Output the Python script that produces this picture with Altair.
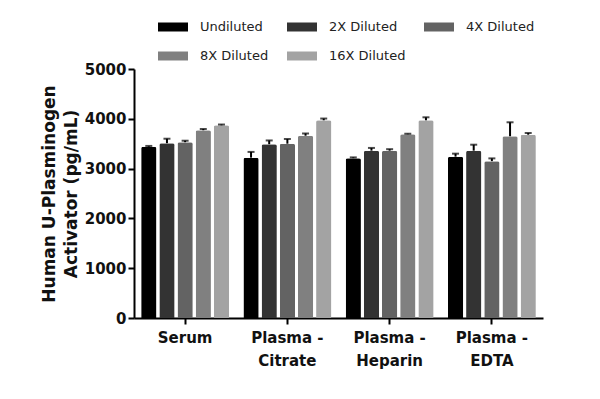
import altair as alt
import pandas as pd

groups = ["Serum", "Plasma -\nCitrate", "Plasma -\nHeparin", "Plasma -\nEDTA"]
series = ["Undiluted", "2X Diluted", "4X Diluted", "8X Diluted", "16X Diluted"]
colors = ["#000000", "#333333", "#636363", "#808080", "#a3a3a3"]

means = {
    "Serum": [3440, 3510, 3530, 3770, 3870],
    "Plasma -\nCitrate": [3220, 3490, 3500, 3660, 3970],
    "Plasma -\nHeparin": [3210, 3360, 3360, 3690, 3970],
    "Plasma -\nEDTA": [3240, 3360, 3150, 3650, 3680],
}
errors = {
    "Serum": [15, 90, 30, 25, 15],
    "Plasma -\nCitrate": [115, 75, 95, 45, 35],
    "Plasma -\nHeparin": [15, 55, 30, 10, 60],
    "Plasma -\nEDTA": [60, 120, 55, 280, 35],
}

rows = []
for g in groups:
    for s, m, e in zip(series, means[g], errors[g]):
        rows.append({"group": g, "series": s, "mean": m, "upper": m + e})
df = pd.DataFrame(rows)

FONT = "DejaVu Sans"

x = alt.X("group:N", sort=groups, title=None,
          scale=alt.Scale(paddingInner=0.14, paddingOuter=0.07),
          axis=alt.Axis(labelExpr="split(datum.label, '\\n')", labelAngle=0,
                        labelFont=FONT, labelFontWeight="bold", labelFontSize=15,
                        labelColor="#111", labelLineHeight=23, labelPadding=6,
                        domainColor="#000", domainWidth=2, tickColor="#000",
                        tickWidth=2, tickSize=6))
xo = alt.XOffset("series:N", sort=series,
                 scale=alt.Scale(paddingInner=0.16, paddingOuter=0))
color = alt.Color("series:N", sort=series,
                  scale=alt.Scale(domain=series, range=colors),
                  legend=alt.Legend(title=None, orient="none", legendX=24, legendY=-57,
                                    direction="horizontal", columns=3,
                                    symbolType="M-1,-0.3H1V0.3H-1Z",
                                    symbolSize=900, symbolStrokeWidth=0,
                                    symbolOpacity=1,
                                    labelFont=FONT, labelFontSize=13,
                                    labelColor="#222", labelOffset=12,
                                    columnPadding=18, rowPadding=7,
                                    labelLimit=200))
y = alt.Y("mean:Q", title=["Human U-Plasminogen", "Activator (pg/mL)"],
          scale=alt.Scale(domain=[0, 5000], nice=False),
          axis=alt.Axis(values=[0, 1000, 2000, 3000, 4000, 5000], grid=False,
                        format="d",
                        labelFont=FONT, labelFontWeight="bold", labelFontSize=15,
                        labelColor="#111", titleFont=FONT, titleFontSize=17,
                        titleFontWeight="bold", titleColor="#111", titlePadding=4,
                        titleLineHeight=22,
                        domainColor="#000", domainWidth=2, tickColor="#000",
                        tickWidth=2, tickSize=6, labelPadding=2))

bars = alt.Chart(df).mark_bar(cornerRadiusTopLeft=2, cornerRadiusTopRight=2).encode(
    x=x, xOffset=xo, y=y, color=color)

err = alt.Chart(df).mark_rule(color="#000", strokeWidth=2).encode(
    x=alt.X("group:N", sort=groups), xOffset=xo,
    y="mean:Q", y2="upper:Q")

caps = alt.Chart(df).mark_tick(color="#000", thickness=2, size=7).encode(
    x=alt.X("group:N", sort=groups), xOffset=xo, y="upper:Q")

chart = alt.layer(bars, err, caps).properties(
    width=409, height=249, padding={"left": 32, "top": 4, "right": 10, "bottom": 10}
).configure(background="white").configure_view(stroke=None)

chart.save("out.html", embed_options={"renderer": "svg", "actions": False})
